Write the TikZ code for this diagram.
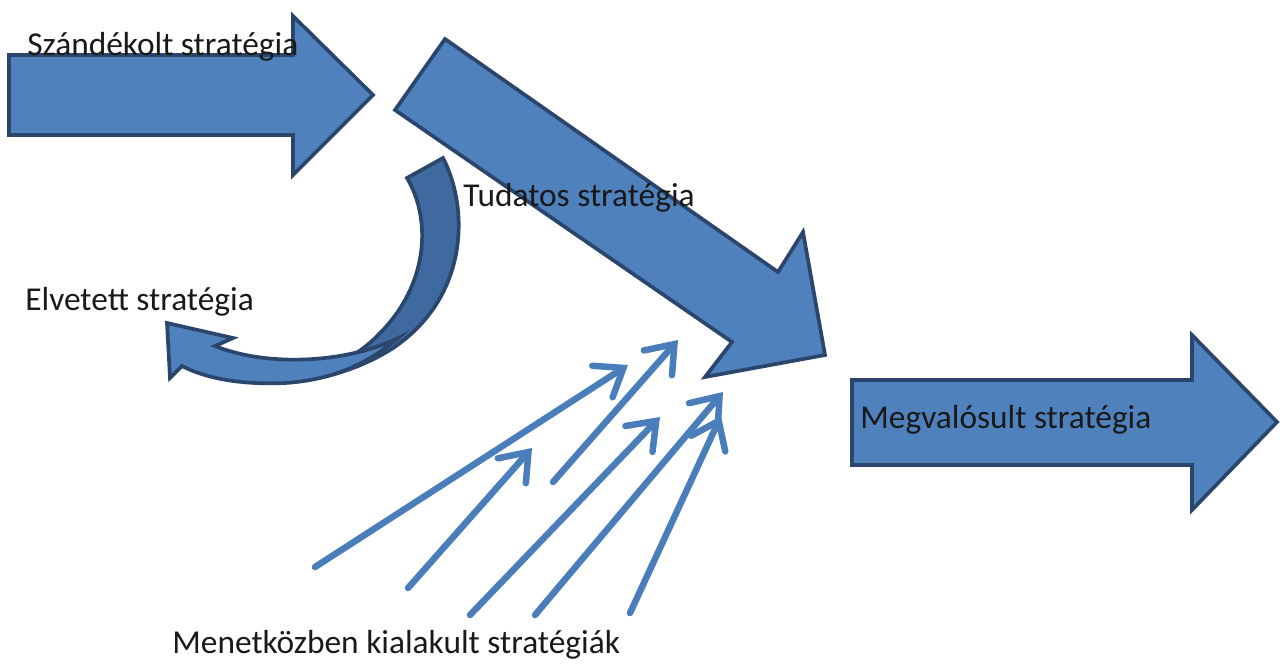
\documentclass[tikz,border=0pt]{standalone}
\usepackage{fontspec}
\setmainfont{Carlito}
\usepackage{tikz}
\usetikzlibrary{arrows.meta}
\definecolor{fillblue}{HTML}{4F81BD}
\definecolor{backblue}{HTML}{3F6A9F}
\definecolor{edgeblue}{HTML}{2A466C}
\definecolor{lineblue}{HTML}{4A7EBB}

\begin{document}
\begin{tikzpicture}[x=0.02cm,y=-0.02cm,
blockarrow/.style={fill=fillblue, draw=edgeblue, line width=2.1pt, line join=miter},
thinarrow/.style={draw=lineblue, line width=3.7pt, line cap=round,
-{Straight Barb[length=0.5cm,width=0.75cm,line cap=round]}},
lbl/.style={inner sep=0pt, anchor=west, text=black!90, font=\fontsize{19}{22}\selectfont}]
\useasboundingbox (0,0) rectangle (1280,664);

% block arrows
\draw[blockarrow] (9,55) -- (293,55) -- (293,16) -- (373,95) -- (293,175)
-- (293,135) -- (9,135) -- cycle;
\draw[blockarrow] (445,39) -- (778,272) -- (803,232) -- (825,355) -- (705,377)
-- (732,342) -- (395,110) -- cycle;
\draw[blockarrow] (852,380) -- (1192,380) -- (1192,335) -- (1277,422)
-- (1192,510) -- (1192,465) -- (852,465) -- cycle;

% curved arrow (back part, then front part with head)
\draw[blockarrow, fill=backblue] (407,178) -- (443,158)
.. controls (470,210) and (468,300) .. (390,350)
.. controls (360,368) and (330,378) .. (290,382)
.. controls (330,370) and (360,355) .. (380,333)
.. controls (428,285) and (432,220) .. (407,178) -- cycle;
\draw[blockarrow] (167,323) -- (233,338) -- (215,346)
.. controls (270,368) and (350,362) .. (398,338)
.. controls (365,366) and (330,380) .. (285,383)
.. controls (240,385) and (205,378) .. (182,366)
-- (170,378) -- cycle;

% labels
\node (intended) [lbl] at (27,47) {Szándékolt stratégia};
\node (deliberate) [lbl] at (463,198) {Tudatos stratégia};
\node (rejected) [lbl] at (25,302) {Elvetett stratégia};
\node (realized) [lbl] at (860,420) {Megvalósult stratégia};
\node (emergent) [lbl] at (172,645) {Menetközben kialakult stratégiák};

% emergent arrows
\coordinate (e1s) at (315,567); \coordinate (e1t) at (628,365);
\coordinate (e2s) at (408,588); \coordinate (e2t) at (532,448);
\coordinate (e3s) at (553,482); \coordinate (e3t) at (678,340);
\coordinate (e4s) at (470,615); \coordinate (e4t) at (660,417);
\coordinate (e5s) at (535,615); \coordinate (e5t) at (723,392);
\coordinate (e6s) at (630,613); \coordinate (e6t) at (721,416);
\foreach \i in {1,...,6}
\draw[thinarrow] (e\i s) -- (e\i t);
\end{tikzpicture}
\end{document}
